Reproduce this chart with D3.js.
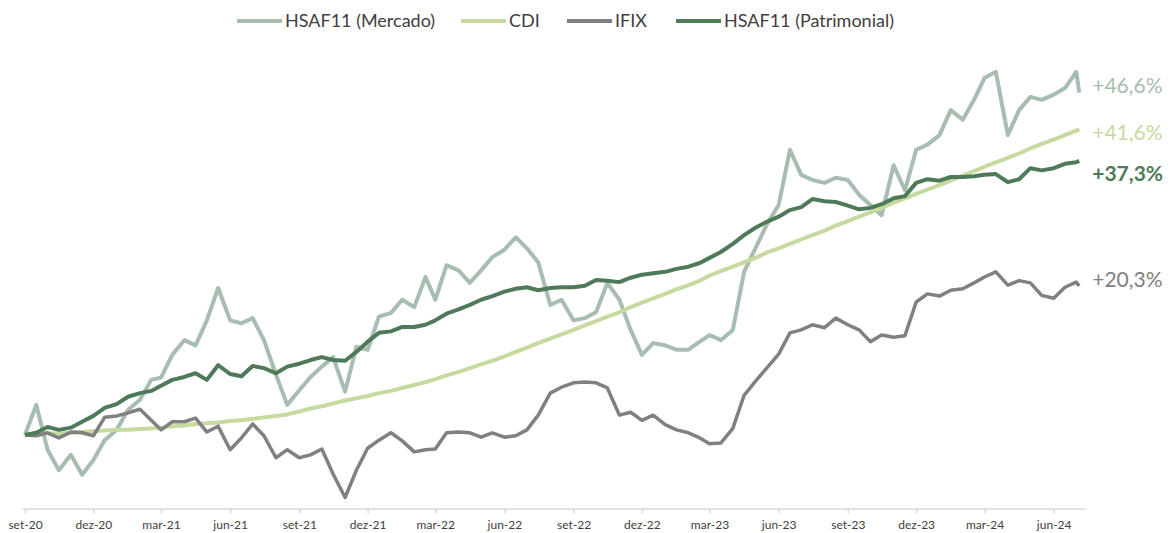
<!DOCTYPE html>
<meta charset="utf-8">
<script src="https://d3js.org/d3.v7.min.js"></script>
<style type="text/css">
body { margin: 0; background: #fff; }
svg { display: block; font-family: Lato, "Open Sans", sans-serif; }
.axis path, .axis line { stroke: #d9d9d9; stroke-width: 1.5px; }
.axis text { font-size: 12px; fill: #404040; font-family: Lato, sans-serif; }
.legend text { font-size: 18px; fill: #404040; }
.endLabel { font-size: 21px; }
</style>
<body></body>
<script>

// half-month observations, set-20 .. jul-24
var dates = [
  "2020-09-01","2020-09-16","2020-10-01","2020-10-16","2020-11-01","2020-11-16","2020-12-01","2020-12-16",
  "2021-01-01","2021-01-16","2021-02-01","2021-02-16","2021-03-01","2021-03-16","2021-04-01","2021-04-16",
  "2021-05-01","2021-05-16","2021-06-01","2021-06-16","2021-07-01","2021-07-16","2021-08-01","2021-08-16",
  "2021-09-01","2021-09-16","2021-10-01","2021-10-16","2021-11-01","2021-11-16","2021-12-01","2021-12-16",
  "2022-01-01","2022-01-16","2022-02-01","2022-02-16","2022-03-01","2022-03-16","2022-04-01","2022-04-16",
  "2022-05-01","2022-05-16","2022-06-01","2022-06-16","2022-07-01","2022-07-16","2022-08-01","2022-08-16",
  "2022-09-01","2022-09-16","2022-10-01","2022-10-16","2022-11-01","2022-11-16","2022-12-01","2022-12-16",
  "2023-01-01","2023-01-16","2023-02-01","2023-02-16","2023-03-01","2023-03-16","2023-04-01","2023-04-16",
  "2023-05-01","2023-05-16","2023-06-01","2023-06-16","2023-07-01","2023-07-16","2023-08-01","2023-08-16",
  "2023-09-01","2023-09-16","2023-10-01","2023-10-16","2023-11-01","2023-11-16","2023-12-01","2023-12-16",
  "2024-01-01","2024-01-16","2024-02-01","2024-02-16","2024-03-01","2024-03-16","2024-04-01","2024-04-16",
  "2024-05-01","2024-05-16","2024-06-01","2024-06-16","2024-07-01","2024-07-05"
];

// cumulative return, %
var mercado = [
  0, 4.1, -2.0, -4.8, -2.7, -5.4, -3.4, -0.7,
  0.7, 3.4, 4.8, 7.5, 7.8, 10.9, 12.9, 12.2,
  15.6, 20.0, 15.6, 15.2, 15.9, 12.9, 8.2, 4.1,
  6.1, 7.9, 9.3, 10.6, 5.9, 12.0, 11.6, 16.1,
  16.6, 18.4, 17.4, 21.5, 18.4, 23.1, 22.4, 20.7,
  22.4, 24.2, 25.2, 26.9, 25.4, 23.5, 17.7, 18.4,
  15.6, 15.9, 16.7, 20.7, 18.4, 14.3, 10.9, 12.5,
  12.2, 11.6, 11.6, 12.7, 13.6, 12.9, 14.3, 22.2,
  25.4, 28.6, 31.3, 38.8, 35.4, 34.7, 34.3, 35.0,
  34.7, 32.7, 31.3, 29.9, 36.7, 33.3, 38.8, 39.5,
  40.8, 44.2, 42.9, 45.6, 48.6, 49.4, 40.8, 44.2,
  46.0, 45.6, 46.3, 47.2, 49.4, 46.6
];

var cdi = [
  0.0, 0.1, 0.2, 0.2, 0.3, 0.4, 0.5, 0.6,
  0.7, 0.7, 0.8, 0.9, 1.0, 1.2, 1.3, 1.5,
  1.6, 1.7, 1.9, 2.0, 2.2, 2.4, 2.6, 2.8,
  3.2, 3.6, 3.9, 4.3, 4.7, 5.0, 5.3, 5.7,
  6.0, 6.4, 6.8, 7.2, 7.6, 8.1, 8.6, 9.1,
  9.6, 10.1, 10.7, 11.3, 11.9, 12.5, 13.1, 13.7,
  14.3, 14.9, 15.5, 16.1, 16.7, 17.4, 18.0, 18.6,
  19.2, 19.8, 20.4, 21.0, 21.7, 22.3, 22.9, 23.5,
  24.1, 24.8, 25.4, 26.0, 26.6, 27.2, 27.8, 28.5,
  29.1, 29.7, 30.3, 30.9, 31.6, 32.2, 32.8, 33.4,
  34.0, 34.6, 35.3, 35.9, 36.5, 37.1, 37.7, 38.3,
  39.0, 39.6, 40.2, 40.8, 41.4, 41.6
];

var ifix = [
  0, -0.1, 0.3, -0.4, 0.4, 0.3, -0.1, 2.4,
  2.6, 3.0, 3.5, 2.0, 0.7, 1.8, 1.8, 2.3,
  0.4, 1.2, -2.0, -0.4, 1.5, -0.1, -3.1, -2.0,
  -3.1, -2.7, -1.9, -5.3, -8.5, -4.8, -1.8, -0.7,
  0.3, -0.8, -2.3, -2.0, -1.9, 0.3, 0.4, 0.3,
  -0.3, 0.3, -0.3, -0.1, 0.7, 2.7, 5.7, 6.5,
  7.1, 7.2, 7.1, 6.4, 2.7, 3.1, 2.0, 2.7,
  1.4, 0.7, 0.3, -0.4, -1.2, -1.1, 0.9, 5.4,
  7.3, 9.1, 11.0, 13.9, 14.3, 15.0, 14.6, 15.9,
  15.0, 14.3, 12.7, 13.6, 13.3, 13.5, 18.1, 19.2,
  18.9, 19.7, 19.9, 20.7, 21.5, 22.2, 20.4, 21.0,
  20.7, 19.0, 18.6, 20.1, 20.8, 20.3
];

var patrimonial = [
  0, 0.3, 1.1, 0.7, 1.0, 1.8, 2.6, 3.7,
  4.2, 5.2, 5.7, 6.0, 6.7, 7.5, 7.9, 8.4,
  7.5, 9.5, 8.3, 8.0, 9.4, 9.1, 8.4, 9.3,
  9.7, 10.2, 10.6, 10.2, 10.1, 11.3, 12.7, 13.9,
  14.1, 14.7, 14.7, 15.0, 15.6, 16.5, 17.1, 17.7,
  18.4, 18.9, 19.5, 19.9, 20.1, 19.7, 20.0, 20.1,
  20.1, 20.3, 21.1, 21.0, 20.8, 21.4, 21.8, 22.0,
  22.2, 22.6, 22.9, 23.4, 24.1, 24.9, 26.0, 27.2,
  28.2, 29.0, 29.7, 30.6, 31.0, 32.1, 31.8, 31.7,
  31.2, 30.7, 30.9, 31.4, 32.2, 32.5, 34.3, 34.8,
  34.6, 35.1, 35.1, 35.2, 35.4, 35.5, 34.4, 34.8,
  36.3, 36.0, 36.3, 36.9, 37.1, 37.3
];

var seriesNames = ["HSAF11 (Mercado)", "CDI", "IFIX", "HSAF11 (Patrimonial)"];
var endLabels = ["+46,6%", "+41,6%", "+20,3%", "+37,3%"];

var tickDates = ["2020-09-01","2020-12-01","2021-03-01","2021-06-01","2021-09-01","2021-12-01",
  "2022-03-01","2022-06-01","2022-09-01","2022-12-01","2023-03-01","2023-06-01",
  "2023-09-01","2023-12-01","2024-03-01","2024-06-01"];
var tickLabels = ["set-20","dez-20","mar-21","jun-21","set-21","dez-21","mar-22","jun-22",
  "set-22","dez-22","mar-23","jun-23","set-23","dez-23","mar-24","jun-24"];

var colors = ["#a7bdb0", "#c6da9f", "#808080", "#4f7a5a"];
var labelDy = [-7, 3, -6, 13];   // nudges so end labels don't collide

var parseDate = d3.timeParse("%Y-%m-%d");
var dateObjs = dates.map(parseDate);
var allSeries = [mercado, cdi, ifix, patrimonial];

var width = 1173, height = 533;

var svg = d3.select("body").append("svg")
    .attr("width", width)
    .attr("height", height);

// scales
var xScale = d3.scaleTime()
  .domain([parseDate("2020-08-28"), parseDate("2024-07-14")])
  .range([22, 1086]);

var yScale = d3.scaleLinear()
  .domain([-10, 50])
  .range([508.5, 67.5]);

// x axis
var xAxis = d3.axisBottom(xScale)
  .tickValues(tickDates.map(parseDate))
  .tickFormat(function(d, i) { return tickLabels[i]; })
  .tickSize(5)
  .tickSizeOuter(0)
  .tickPadding(7);

svg.append('g')
  .attr('class', 'x axis')
  .attr('transform', 'translate(0,' + yScale(-10) + ')')
  .call(xAxis);

// lines
var line = d3.line()
  .x(function(d, i) { return xScale(dateObjs[i]); })
  .y(function(d) { return yScale(d); })
  .curve(d3.curveLinear);

svg.selectAll('.serie')
  .data(allSeries).enter().append('path')
  .attr('class', 'serie')
  .attr('fill', 'none')
  .attr('stroke', function(d, i) { return colors[i]; })
  .attr('stroke-width', function(d, i) { return i == 2 ? 3.5 : 4; })
  .attr('stroke-linejoin', 'round')
  .attr('d', line);

// end labels
var lastDate = dateObjs[dateObjs.length - 1];
svg.selectAll('.endLabel')
  .data(allSeries).enter().append('text')
  .attr('class', 'endLabel')
  .attr('x', xScale(lastDate) + 13)
  .attr('y', function(d, i) { return yScale(d[d.length - 1]) + labelDy[i]; })
  .attr('dy', '0.35em')
  .style('fill', function(d, i) { return colors[i]; })
  .style('font-weight', function(d, i) { return i == 3 ? 'bold' : 'normal'; })
  .text(function(d, i) { return endLabels[i]; });

// legend
var legendX = [237, 461, 567, 676];
var legend = svg.append('g').attr('class', 'legend')
  .selectAll('g')
  .data(seriesNames).enter().append('g')
  .attr('transform', function(d, i) { return 'translate(' + legendX[i] + ',21)'; });

legend.append('line')
  .attr('x1', 0).attr('x2', 45)
  .attr('stroke', function(d, i) { return colors[i]; })
  .attr('stroke-width', 4);

legend.append('text')
  .attr('x', 48)
  .attr('dy', '0.35em')
  .text(function(d) { return d; });

</script>
